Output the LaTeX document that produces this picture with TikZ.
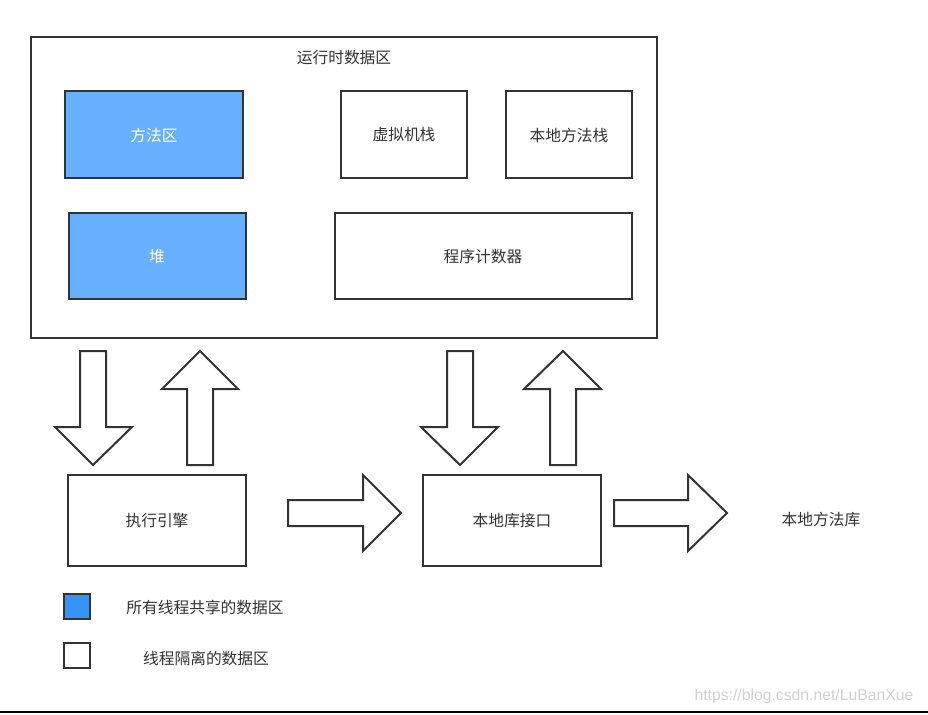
\documentclass[tikz,border=0pt]{standalone}
\usepackage{fontspec}
\newfontfamily\cjk{Noto Sans CJK SC}
\setmainfont{Liberation Sans}
\definecolor{shared}{HTML}{66B0FF}
\definecolor{legendblue}{HTML}{3394F5}
\definecolor{txt}{HTML}{333333}
\definecolor{edge}{HTML}{333333}
\begin{document}
\begin{tikzpicture}[x=0.75pt,y=-0.75pt,
  box/.style={draw=edge,line width=1.5pt,fill=white},
  sharedbox/.style={draw=edge,line width=1.5pt,fill=shared},
  lbl/.style={font=\cjk\fontsize{11.8}{13}\selectfont,text=txt},
  wlbl/.style={font=\cjk\fontsize{11.8}{13}\selectfont,text=white},
  bigarrow/.style={draw=edge,line width=1.5pt,fill=white,line join=miter}]
\useasboundingbox (0,0) rectangle (928,714);
\fill[white] (0,0) rectangle (928,714);
% outer runtime data area
\draw[box] (31,37) rectangle (657,338);
\node[lbl] (title) at (344,58) {运行时数据区};
% inner regions
\draw[sharedbox] (65,91) rectangle (243,178);
\node[wlbl] (method) at (154,135) {方法区};
\draw[sharedbox] (69,213) rectangle (246,299);
\node[wlbl] (heap) at (157,257) {堆};
\draw[box] (341,91) rectangle (467,178);
\node[lbl] (vmstack) at (404,135) {虚拟机栈};
\draw[box] (506,91) rectangle (632,178);
\node[lbl] (nstack) at (569,135) {本地方法栈};
\draw[box] (335,213) rectangle (632,299);
\node[lbl] (pc) at (483,257) {程序计数器};
% vertical arrows
\draw[bigarrow] (80,351) -- (106,351) -- (106,427) -- (132,427) -- (93,465) -- (55,427) -- (80,427) -- cycle;
\draw[bigarrow] (200,351) -- (238,389) -- (213,389) -- (213,465) -- (187,465) -- (187,389) -- (162,389) -- cycle;
\draw[bigarrow] (447,351) -- (473,351) -- (473,427) -- (498,427) -- (460,465) -- (421,427) -- (447,427) -- cycle;
\draw[bigarrow] (563,351) -- (601,389) -- (576,389) -- (576,465) -- (550,465) -- (550,389) -- (524,389) -- cycle;
% bottom boxes
\draw[box] (68,475) rectangle (246,566);
\node[lbl] (engine) at (157,521) {执行引擎};
\draw[box] (423,475) rectangle (601,566);
\node[lbl] (nif) at (512,521) {本地库接口};
% horizontal arrows
\draw[bigarrow] (288,500) -- (363,500) -- (363,475) -- (401,513) -- (363,551) -- (363,526) -- (288,526) -- cycle;
\draw[bigarrow] (614,500) -- (688,500) -- (688,475) -- (727,513) -- (688,551) -- (688,526) -- (614,526) -- cycle;
\node[lbl] (nlib) at (821,520) {本地方法库};
% legend
\draw[draw=edge,line width=1.5pt,fill=legendblue] (64,594) rectangle (90,619);
\node[lbl] (lg1) at (205,607) {所有线程共享的数据区};
\draw[box] (64,643) rectangle (90,668);
\node[lbl] (lg2) at (206,658) {线程隔离的数据区};
% watermark
\node[anchor=east,text=black!18,font=\fontsize{11.8}{13}\selectfont] (wm) at (918,696) {https://blog.csdn.net/LuBanXue};
% bottom rule
\draw[line width=1.5pt,black] (0,712) -- (928,712);
\end{tikzpicture}
\end{document}
